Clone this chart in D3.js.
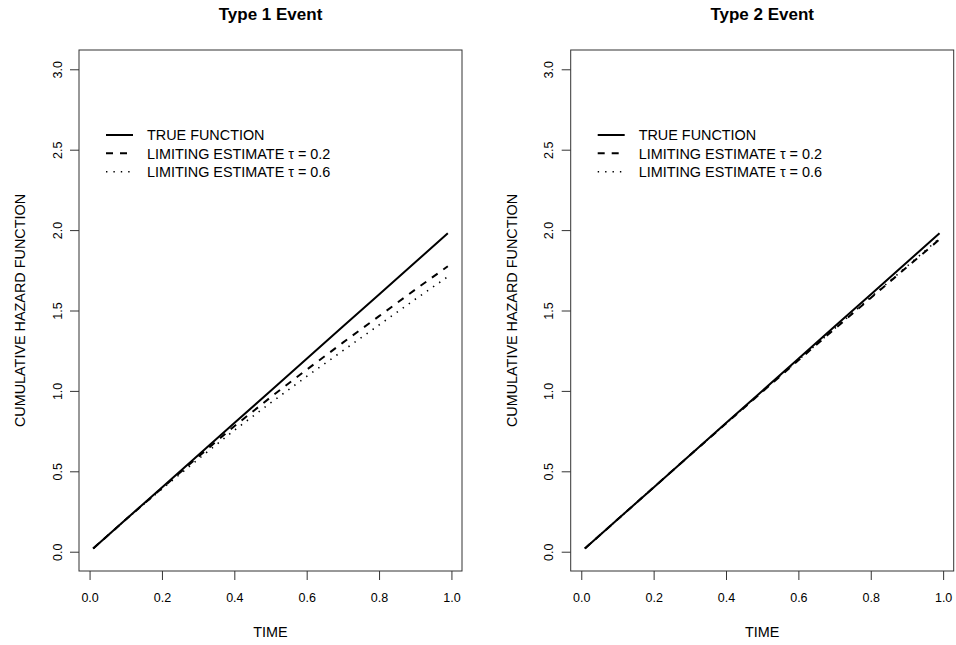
<!DOCTYPE html>
<html>
<head>
<meta charset="utf-8">
<script src="https://cdn.jsdelivr.net/npm/d3@7"></script>
<style>
body { margin: 0; background: #fff; }
text { font-family: "Liberation Sans", Arial, Helvetica, sans-serif; fill: #000; }
</style>
</head>
<body>
<script>
// time points
var time = [0.01, 0.1, 0.2, 0.3, 0.4, 0.5, 0.6, 0.7, 0.8, 0.9, 0.99];

// type 1 event
var trueType1 = [0.02, 0.2, 0.4, 0.6, 0.8, 1.0, 1.2, 1.4, 1.6, 1.8, 1.98];
var tau02Type1 = [0.02, 0.2, 0.395, 0.59, 0.78, 0.96, 1.132, 1.30, 1.465, 1.63, 1.775];
var tau06Type1 = [0.02, 0.2, 0.39, 0.575, 0.755, 0.925, 1.09, 1.25, 1.41, 1.57, 1.71];

// type 2 event
var trueType2 = [0.02, 0.2, 0.4, 0.6, 0.8, 1.0, 1.2, 1.4, 1.6, 1.8, 1.98];
var tau02Type2 = [0.02, 0.2, 0.4, 0.6, 0.797, 0.994, 1.19, 1.385, 1.578, 1.77, 1.942];
var tau06Type2 = [0.02, 0.2, 0.4, 0.6, 0.798, 0.995, 1.192, 1.388, 1.582, 1.775, 1.948];

var xTicks = [0, 0.2, 0.4, 0.6, 0.8, 1.0];
var yTicks = [0, 0.5, 1.0, 1.5, 2.0, 2.5, 3.0];
var titles = ["Type 1 Event", "Type 2 Event"];
var legendLabels = ["TRUE FUNCTION", "LIMITING ESTIMATE \u03c4 = 0.2", "LIMITING ESTIMATE \u03c4 = 0.6"];

var svg = d3.select("body")
			.append("svg")
			.attr("width", 956)
			.attr("height", 645);

var boxTop = 50, boxBottom = 571, boxWidth = 383;
var styles = [
	{ width: 2, dash: null },
	{ width: 2, dash: "7,7" },
	{ width: 1.6, dash: "1.4,6" }
];

function drawPanel(left, title, series){
	var g = svg.append("g");
	var right = left + boxWidth;

	// R style 4% padding on the x range, ylim 0..3
	var xr = d3.extent(time);
	var pad = (xr[1] - xr[0]) * 0.04;
	var x = d3.scaleLinear().domain([xr[0] - pad, xr[1] + pad]).range([left, right]);
	var y = d3.scaleLinear().domain([-0.12, 3.12]).range([boxBottom, boxTop]);

	// x axis
	var xa = g.append("g")
			.attr("transform", "translate(0," + boxBottom + ")")
			.call(d3.axisBottom(x).tickValues(xTicks).tickFormat(d3.format(".1f")).tickSize(9).tickSizeOuter(0));
	xa.select(".domain").remove();
	xa.selectAll("line").attr("stroke", "#333");
	xa.selectAll("text")
		.attr("y", 30.7)
		.attr("dy", null)
		.style("font-size", "12.5px")
		.style("font-family", "Liberation Sans, Arial, sans-serif");

	// y axis, labels turned like R's las=0
	var ya = g.append("g")
			.attr("transform", "translate(" + left + ",0)")
			.call(d3.axisLeft(y).tickValues(yTicks).tickFormat(d3.format(".1f")).tickSize(9).tickSizeOuter(0));
	ya.select(".domain").remove();
	ya.selectAll("line").attr("stroke", "#333");
	ya.selectAll("text")
		.attr("x", null)
		.attr("dy", null)
		.attr("transform", "translate(-17.5,0) rotate(-90)")
		.attr("text-anchor", "middle")
		.style("font-size", "12.5px")
		.style("font-family", "Liberation Sans, Arial, sans-serif");

	// box
	g.append("rect")
		.attr("x", left)
		.attr("y", boxTop)
		.attr("width", boxWidth)
		.attr("height", boxBottom - boxTop)
		.attr("fill", "none")
		.attr("stroke", "#333")
		.attr("stroke-width", 1);

	// titles
	g.append("text")
		.text(title)
		.attr("x", left + boxWidth / 2)
		.attr("y", 20)
		.attr("text-anchor", "middle")
		.style("font-weight", "bold")
		.style("font-size", "17px");

	g.append("text")
		.text("TIME")
		.attr("x", left + boxWidth / 2)
		.attr("y", 637)
		.attr("text-anchor", "middle")
		.style("font-size", "14.4px");

	g.append("text")
		.text("CUMULATIVE HAZARD FUNCTION")
		.attr("transform", "translate(" + (left - 54) + "," + ((boxTop + boxBottom) / 2) + ") rotate(-90)")
		.attr("text-anchor", "middle")
		.style("font-size", "14.4px");

	// curves
	var line = d3.line()
			.x(function(d){ return x(d[0]); })
			.y(function(d){ return y(d[1]); });

	series.forEach(function(vals, i){
		g.append("path")
			.datum(time.map(function(t, j){ return [t, vals[j]]; }))
			.attr("d", line)
			.attr("fill", "none")
			.attr("stroke", "#000")
			.attr("stroke-width", styles[i].width)
			.attr("stroke-dasharray", styles[i].dash);
	});

	// legend
	var rowsY = [135, 153.3, 171.7];
	legendLabels.forEach(function(lab, i){
		g.append("line")
			.attr("x1", left + 27)
			.attr("x2", left + 54)
			.attr("y1", rowsY[i])
			.attr("y2", rowsY[i])
			.attr("stroke", "#000")
			.attr("stroke-width", styles[i].width)
			.attr("stroke-dasharray", styles[i].dash);
		g.append("text")
			.text(lab)
			.attr("x", left + 68)
			.attr("y", rowsY[i] + 5.2)
			.style("font-size", "14.4px");
	});
}

drawPanel(79, titles[0], [trueType1, tau02Type1, tau06Type1]);
drawPanel(570.7, titles[1], [trueType2, tau02Type2, tau06Type2]);
</script>
</body>
</html>
